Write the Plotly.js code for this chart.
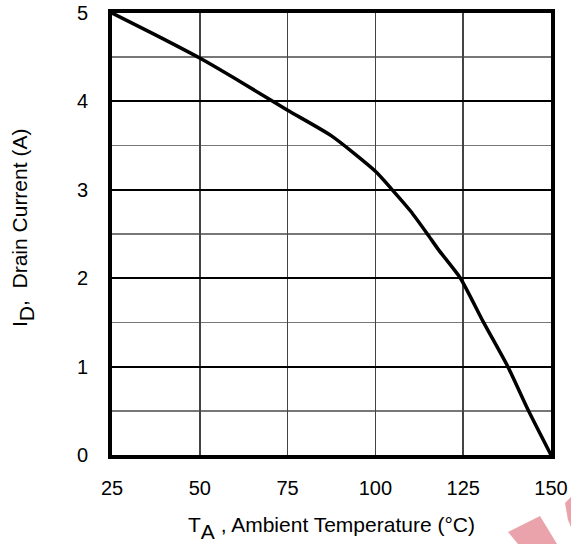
<!DOCTYPE html>
<html>
<head>
<meta charset="utf-8">
<script src="https://cdn.plot.ly/plotly-3.0.1.min.js"></script>
<style>html,body{margin:0;padding:0;background:#fff;}#chart{width:571px;height:544px;}</style>
</head>
<body>
<div id="chart"></div>
<script>
// Data
var temperature = [25, 37.5, 50, 62.5, 75, 87.5, 100, 104.8, 110, 114.8, 118, 124.2, 130.8, 137.7, 143.6, 150];
var drainCurrent = [5, 4.75, 4.49, 4.2, 3.9, 3.61, 3.21, 3.0, 2.76, 2.5, 2.32, 2.0, 1.5, 1.0, 0.5, 0];
var xTicks = [25, 50, 75, 100, 125, 150];
var yTicks = [0, 1, 2, 3, 4, 5];
var xTitle = 'T<sub><sub><span style="font-size:21px">A</span></sub></sub> , Ambient Temperature (°C)';
var yTitle = 'I<sub><sub><span style="font-size:21px">D</span></sub></sub>,  Drain Current (A)';

var W = 571, H = 544, L = 112, R = 20, T = 13, B = 89;
var pw = W - L - R, ph = H - T - B;
function px(x) { return (x - L) / pw; }
function py(y) { return (H - B - y) / ph; }
function poly(pts) {
  return 'M' + pts.map(function (p) { return px(p[0]) + ',' + py(p[1]); }).join(' L') + ' Z';
}

var trace = {
  x: temperature, y: drainCurrent, type: 'scatter', mode: 'lines',
  line: {color: '#000', width: 3.5, shape: 'spline', smoothing: 0.6},
  hoverinfo: 'skip', showlegend: false, cliponaxis: false
};

var fam = 'Liberation Sans, Arial, sans-serif';

var layout = {
  width: W, height: H,
  margin: {l: L, r: R, t: T, b: B},
  paper_bgcolor: '#fff', plot_bgcolor: '#fff',
  showlegend: false,
  xaxis: {
    range: [25, 150], tickvals: xTicks, ticktext: xTicks.map(String),
    showgrid: true, gridcolor: '#444', gridwidth: 1.5,
    zeroline: false, showline: true, linecolor: '#000', linewidth: 4, mirror: true,
    ticks: '', ticklabelstandoff: 12,
    tickfont: {family: fam, size: 20, color: '#000'},
    fixedrange: true
  },
  yaxis: {
    range: [0, 5], tickvals: yTicks, ticktext: yTicks.map(String),
    showgrid: true, gridcolor: '#000', gridwidth: 2,
    minor: {dtick: 0.5, showgrid: true, gridcolor: '#777', gridwidth: 1.5, ticks: ''},
    zeroline: false, showline: true, linecolor: '#000', linewidth: 4, mirror: true,
    ticks: 'inside', ticklen: 18, tickwidth: 2, tickcolor: '#000',
    ticklabelstandoff: 16,
    tickfont: {family: fam, size: 20, color: '#000'},
    fixedrange: true
  },
  annotations: [
    {text: xTitle, xref: 'paper', yref: 'paper', x: px(331), y: py(528),
     xanchor: 'center', yanchor: 'middle', showarrow: false,
     font: {family: fam, size: 21, color: '#000'}},
    {text: yTitle, xref: 'paper', yref: 'paper', x: px(23), y: py(228),
     xanchor: 'center', yanchor: 'middle', textangle: -90, showarrow: false,
     font: {family: fam, size: 21, color: '#000'}}
  ],
  shapes: [
    {type: 'path', xref: 'paper', yref: 'paper', layer: 'below',
     path: poly([[508, 532], [540, 516], [557, 544], [518, 544]]),
     fillcolor: '#eaa3ab', line: {width: 0}},
    {type: 'path', xref: 'paper', yref: 'paper', layer: 'below',
     path: poly([[565, 503], [571, 497], [571, 527], [568, 520]]),
     fillcolor: '#eaa3ab', line: {width: 0}}
  ]
};

Plotly.newPlot('chart', [trace], layout, {displayModeBar: false, staticPlot: true});
</script>
</body>
</html>
